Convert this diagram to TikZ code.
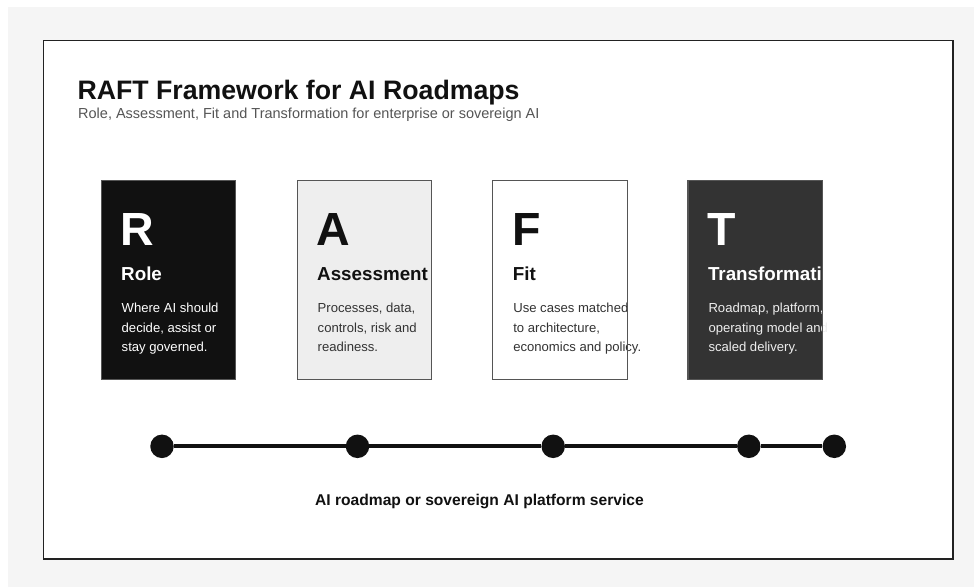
\documentclass[tikz,border=0pt]{standalone}
\usepackage{fontspec}
\setmainfont{Liberation Sans}
\definecolor{bg}{HTML}{F5F5F5}
\definecolor{ink}{HTML}{111111}
\definecolor{frame}{HTML}{222222}
\definecolor{cardA}{HTML}{EEEEEE}
\definecolor{cardT}{HTML}{333333}
\definecolor{edge}{HTML}{555555}
\definecolor{subgray}{HTML}{555555}
\definecolor{bodydark}{HTML}{333333}
\definecolor{bodylight}{HTML}{EEEEEE}
\tikzset{
  card/.style={rectangle, minimum width=134pt, minimum height=198.5pt, inner sep=0pt, anchor=north west, draw=none},
  cardedge/.style={draw=edge, line width=1.2pt},
  letter/.style={anchor=base west, inner sep=0pt, font=\bfseries\fontsize{46.5}{46.5}\selectfont},
  ctitle/.style={anchor=base west, inner sep=0pt, font=\bfseries\fontsize{18.8}{18.8}\selectfont},
  cbody/.style={anchor=base west, inner sep=0pt, font=\fontsize{13.1}{13.1}\selectfont},
  dot/.style={circle, fill=ink, minimum size=23.5pt, inner sep=0pt},
  tline/.style={draw=ink, line width=4pt},
}
\begin{document}
\begin{tikzpicture}[x=1pt,y=-1pt]
\useasboundingbox (0,0) rectangle (974,587);
\fill[white] (0,0) rectangle (974,587);
\fill[bg] (8,7) rectangle (974,587);
\draw[draw=frame, fill=white, line width=1.5pt] (43.5,40.5) rectangle (952.8,558.8);

% title
\node[anchor=base west, inner sep=0pt, font=\bfseries\fontsize{26.7}{26.7}\selectfont, text=ink] (title) at (77.3,99) {RAFT Framework for AI Roadmaps};
\node[anchor=base west, inner sep=0pt, font=\fontsize{14.5}{14.5}\selectfont, text=subgray] (subtitle) at (78,118.3) {Role, Assessment, Fit and Transformation for enterprise or sovereign AI};

% cards (fills)
\node[card, fill=ink] (cR) at (101.2,180.5) {};
\node[card, fill=cardA] (cA) at (297.2,180.5) {};
\node[card, fill=white] (cF) at (492.8,180.5) {};
\node[card, fill=cardT] (cT) at (688.0,180.5) {};

% R
\node[letter, text=white] (lR) at (120.5,245) {R};
\node[ctitle, text=white] (tR) at (121.0,280) {Role};
\node[cbody, text=white] (bR1) at (121.5,312.7) {Where AI should};
\node[cbody, text=white] (bR2) at (121.5,332.3) {decide, assist or};
\node[cbody, text=white] (bR3) at (121.5,351.7) {stay governed.};
% A
\node[letter, text=ink] (lA) at (316.5,245) {A};
\node[ctitle, text=ink] (tA) at (317.0,280) {Assessment};
\node[cbody, text=bodydark] (bA1) at (317.5,312.7) {Processes, data,};
\node[cbody, text=bodydark] (bA2) at (317.5,332.3) {controls, risk and};
\node[cbody, text=bodydark] (bA3) at (317.5,351.7) {readiness.};
% F
\node[letter, text=ink] (lF) at (512.1,245) {F};
\node[ctitle, text=ink] (tF) at (512.6,280) {Fit};
\node[cbody, text=bodydark] (bF1) at (513.1,312.7) {Use cases matched};
\node[cbody, text=bodydark] (bF2) at (513.1,332.3) {to architecture,};
\node[cbody, text=bodydark] (bF3) at (513.1,351.7) {economics and policy.};
% T
\node[letter, text=white] (lT) at (707.3,245) {T};
\node[ctitle, text=white] (tT) at (707.8,280) {Transformation};
\node[cbody, text=bodylight] (bT1) at (708.3,312.7) {Roadmap, platform,};
\node[cbody, text=bodylight] (bT2) at (708.3,332.3) {operating model and};
\node[cbody, text=bodylight] (bT3) at (708.3,351.7) {scaled delivery.};

% card borders
\foreach \c in {cR,cA,cF,cT}{
  \draw[cardedge] (\c.north west) rectangle (\c.south east);
}

% timeline
\node[dot] (d1) at (162,446.3) {};
\node[dot] (d2) at (357.5,446.3) {};
\node[dot] (d3) at (553.2,446.3) {};
\node[dot] (d4) at (748.8,446.3) {};
\node[dot] (d5) at (834.3,446.3) {};
\draw[tline] (d1) -- (d2) -- (d3) -- (d4) -- (d5);

\node[anchor=base, inner sep=0pt, font=\bfseries\fontsize{15.6}{15.6}\selectfont, text=ink] (caption) at (479.5,505) {AI roadmap or sovereign AI platform service};
\end{tikzpicture}
\end{document}
